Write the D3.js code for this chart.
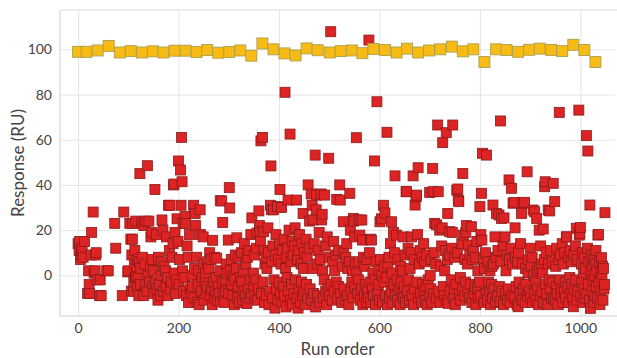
<!DOCTYPE html>
<html>
<head>
<meta charset="utf-8">
<script src="https://cdn.jsdelivr.net/npm/d3@7"></script>
<style>
  body { margin: 0; background: #fff; }
  svg text { font-family: Lato, "Open Sans", sans-serif; font-weight: 400; fill: #444; }
</style>
</head>
<body>
<svg id="chart"></svg>
<script>
// tick values
const xTicks = [0, 200, 400, 600, 800, 1000];
const yTicks = [0, 20, 40, 60, 80, 100];

// control samples (yellow)
const yellowRun = [0, 17, 39, 61, 83, 105, 127, 149, 170, 192, 214, 236, 257, 279, 301, 323, 345, 367, 389, 411, 433, 455, 477, 501,
  523, 545, 566, 588, 611, 634, 655, 677, 699, 721, 744, 766, 787, 809, 832, 853, 876, 898, 919, 942, 964, 986, 1008, 1030];
const yellowResp = [98.9, 98.9, 99.5, 101.5, 98.6, 99.2, 98.6, 99.1, 98.6, 99.4, 99.4, 98.8, 99.7, 98.5, 98.8, 99.5, 97.2, 102.6, 100, 98.2, 97.3, 100.4, 99.6, 98.6,
  99.2, 99.5, 98.3, 100.1, 99.7, 98.6, 100.3, 98.6, 99.5, 100, 101.2, 99.1, 100, 94.4, 100, 99.7, 98.9, 99.8, 100.3, 99.7, 99.2, 102, 99.7, 94.4];

// sample responses (red), index = run order, null = no sample at that run
const redResp = [
  14,null,11,15,null,7,9,11,12,null,8,null,null,15,null,null,null,null,null,-8,null,2,-4,-8,null,
  null,9,19,null,null,28,null,1,null,2,9,10,null,-2,null,null,null,null,-9,-2,null,-9,null,null,null,
  null,null,null,null,null,null,null,2,null,null,2,null,null,null,null,null,null,null,null,null,null,null,null,23,null,
  12,null,null,null,null,null,null,null,null,null,null,null,null,-9,null,null,28,null,null,null,null,null,null,null,1.5,
  2,null,null,23,null,16,-7,9,16,23,-7,-3,5,11,-1,24,0,4,-5,7,-1,-9,6,45,-4,
  3,null,23,8,null,-9,22,null,5,-4,24,null,-7,48.5,0,null,24,-3,null,4,17,null,19,7,-5,
  2,-8,null,38,-3,null,18,-6,null,-11,8,null,-4,null,-9,0,6,24.5,null,20,-7,4,null,null,2,
  -5,17,null,-1,-9,31,null,11,31,-6,null,-3,8,null,14,40,40.4,1,19,-8,null,-2,25,null,15,
  50.6,-4,7,null,46.6,31,61,41.4,2,23,-7,null,-1,26,23,null,-9,13,null,8,-12,null,18,-6,null,
  -8,null,0,-5,null,31,-10,3,27.4,22,null,8,-12,null,-4,2,-13,null,29,18,-7,null,-1,null,17,
  5,-11,null,-3,1,-8,null,-5,6,null,3,null,10,-9,null,7,-6,-13,15.5,null,-3,-10,8,null,-7,
  -1,7.6,-11,null,-5,null,-8,2,33,-11.7,null,32.9,-3,23.4,-9,null,-12,null,-2,-7,5,null,1,null,15.6,
  -8,38.8,29.8,2,null,7,-4,null,-9,0,null,-13,-2,9,null,3,16.6,-10,null,-5,8,-12,null,-1,null,
  10,-3,null,-11,2,-7,14,null,-9,5,null,-12.5,8,null,-6,11,-10,null,-2,18,-8,25.4,null,null,1,
  -5,9,-9,null,-2,12,18.7,-11,null,-6,28.5,22,19,15,59.5,-8,null,61,-3,19.3,11,-12,5,null,8,
  -9,3,null,21,10,-13,null,-7,31,48.4,29,6,-10,13,29,-2,null,-14.5,9,18,-6,null,30.4,-11,7,
  -3,14,38,-8,5,30,-12,11,null,-5,16,-9,81,3,-14,8,-1,12,33.3,-7,20,null,62.5,-11,6,
  -4,15,-13,9,null,-8,13,21,-2,null,33.3,-10,7,-14.5,11,-6,18,null,-12,5,-3,14,-9,27.4,3,
  -7,10,-13,null,16,-4,8,-10,40,null,12,24,-6,null,36,-11,31,3,24.5,-8,14,null,53.2,-14,29,
  35.5,5,-9,11,null,19,-12,7,null,36,24.5,27,2,-10,null,-2,35.5,13,-7,null,-13,17,null,-6,51.8,
  8,-9,null,107.8,-4,null,-11,6,null,15,-7,2,null,9,-3,33.6,null,-10,11,-5,null,40,33.3,-8,null,
  -12,4,null,23.7,10,-6,null,-11,8,null,14,-9,3,null,-13,6,36.3,20,-7,null,-3,2,-10,25.2,24,
  17,-5,5,null,60.9,1,-8,null,-2,6,24.5,17.8,-11,null,-6,24.5,15.6,-13,8,null,-9,4,null,-4,-12,
  7,-7,null,-10,104.1,10,-3,16,-12,15.6,null,-6,1,-9,null,50.6,-2,-13,6,null,76.8,-8,null,-4,2,
  -11,23.7,7,null,25,0,-12,null,31,-3,4,27.6,-9,null,-1,63.3,-13,5,null,8,-10,null,14,-7,23.7,
  1,-12,null,19,-4,10,44,-9,null,17.8,-2,-11,7,null,-6,null,-13,4,-3,null,-8,2,17,-10,null,
  -5,9,-12,37,37,null,-7,12,-2,null,-11,3,null,10,17,-9,null,44,-13,7,-6,31.1,null,34.8,35.5,
  -3,18,47.6,-10,5,null,11,-8,null,-12,8,-4,null,14,-7,6,-11,null,-5,9,-13,null,-2,null,-9,
  36.7,0,-6,7,-12,null,47.3,37,-8,10,23,null,5,-10,22.3,null,66.5,37,-7,null,20,-12,4,null,13,
  21,58.7,-5,null,-9,2,11,null,63.1,-11,7,27.4,-12.4,null,9,19.3,-7,null,-2,12,19,66.5,-10,null,-6,
  8,-13,null,-4,37.7,10,38.2,33.3,32.6,-8,null,-1,-11,null,14,-6,45.1,17.8,null,-9,7,-3,19,22,null,
  5,-7,13.4,null,-10,9,-4,null,21.5,-12,7,null,11,-8,null,-5,8,-13,null,15,-6,2,-10,null,-3,
  30.4,-9,18,36.3,15.6,54,null,7,-12,3,null,10,-8,53.2,null,-11,6,-3,null,-7,2,-13,null,-4,4,
  -10,31.1,5,-6,null,17,-12,8,27.4,null,-9,11,null,26.7,-5,-11.7,68.3,6,25.2,-7,null,13,-13,25.4,null,
  17,-8,2,null,9,-11,null,-6,42.2,7,-12,null,12,38.5,-9,5,31.9,null,32.3,-10,21,8,-5,null,-13,
  6,-13.9,10,-3,null,-8,14,null,27.4,-11,5,31.9,-6,null,32.3,-12,3,-4,null,45.8,-9,1,7,-7,null,
  12,-10,4,null,8,-12,28.9,0,-8,28.1,null,-3,-11,25.2,2,-6,null,-13,20,3,-9,13,null,5,-7,
  1,20.5,-12,7,39.2,41.4,-4,10,-8,null,-13,28.9,5,-2,28.5,-6,11,null,-10,6,-3,40.7,-10.2,null,32.6,
  -11,4,-5,12,-8,null,-13,7,72.1,-2,9,-9,null,-6,14,-12,5,null,-7,10,-3,-10,17,17,null,
  -5,8,-12,null,-1,11,-8,6,-4,null,-10,-13.9,9,-6,null,13,-2,20.8,-11,7,-7,null,73.1,17.8,18.6,
  21.2,-9,5,-3,10,-12,1,-6,8,-10,3,null,61.8,-8,12,55,-4,6,-11,31.1,-14.6,2,9,-7,4,
  -2,-12,7,0,-9,5,11,-5,2,-10,17.8,18.1,-3,6,-13,1,-7,7.8,-1,4,-11,3,-6,-4,27.7
];

const width = 617, height = 358;
const margin = { top: 10, right: 2, bottom: 42, left: 60 };

const svg = d3.select('#chart')
  .attr('width', width)
  .attr('height', height);

const x = d3.scaleLinear().domain([-36, 1069]).range([margin.left, width - margin.right]);
const y = d3.scaleLinear().domain([-18, 117.4]).range([height - margin.bottom, margin.top]);

const plotW = width - margin.left - margin.right;
const plotH = height - margin.top - margin.bottom;

// gridlines + tick labels
const gx = svg.append('g')
  .attr('transform', `translate(0,${height - margin.bottom})`)
  .call(d3.axisBottom(x).tickValues(xTicks).tickFormat(d3.format('d')).tickSize(-plotH).tickPadding(7));
const gy = svg.append('g')
  .attr('transform', `translate(${margin.left},0)`)
  .call(d3.axisLeft(y).tickValues(yTicks).tickFormat(d3.format('d')).tickSize(-plotW).tickPadding(8));

[gx, gy].forEach(g => {
  g.select('.domain').remove();
  g.selectAll('.tick line').attr('stroke', '#e4e4e4');
  g.selectAll('.tick text').style('font-size', '14px').attr('fill', '#444');
});

// frame: left, top, bottom
svg.append('line').attr('x1', margin.left).attr('x2', margin.left)
  .attr('y1', margin.top).attr('y2', height - margin.bottom).attr('stroke', '#cfcfcf');
svg.append('line').attr('x1', margin.left).attr('x2', width)
  .attr('y1', margin.top).attr('y2', margin.top).attr('stroke', '#dddddd');
svg.append('line').attr('x1', margin.left).attr('x2', width)
  .attr('y1', height - margin.bottom).attr('y2', height - margin.bottom).attr('stroke', '#cfcfcf');

// red samples
const red = redResp.map((v, i) => ({ run: i, resp: v })).filter(d => d.resp !== null);
const rs = 10;
svg.append('g').selectAll('rect')
  .data(red)
  .enter()
  .append('rect')
  .attr('x', d => x(d.run) - rs / 2)
  .attr('y', d => y(d.resp) - rs / 2)
  .attr('width', rs)
  .attr('height', rs)
  .attr('fill', '#dc2424')
  .attr('stroke', '#8c1a1a')
  .attr('stroke-width', 0.8);

// yellow controls
const yellow = yellowRun.map((r, i) => ({ run: r, resp: yellowResp[i] }));
const ys = 11;
svg.append('g').selectAll('rect')
  .data(yellow)
  .enter()
  .append('rect')
  .attr('x', d => x(d.run) - ys / 2)
  .attr('y', d => y(d.resp) - ys / 2)
  .attr('width', ys)
  .attr('height', ys)
  .attr('fill', '#f8bb14')
  .attr('stroke', '#a9a050')
  .attr('stroke-width', 0.9);

// axis titles
svg.append('text')
  .attr('x', (margin.left + width - margin.right) / 2)
  .attr('y', 355)
  .attr('text-anchor', 'middle')
  .style('font-size', '17px')
  .text('Run order');

svg.append('text')
  .attr('transform', `translate(24,${margin.top + plotH / 2}) rotate(-90)`)
  .attr('text-anchor', 'middle')
  .style('font-size', '17px')
  .text('Response (RU)');
</script>
</body>
</html>
